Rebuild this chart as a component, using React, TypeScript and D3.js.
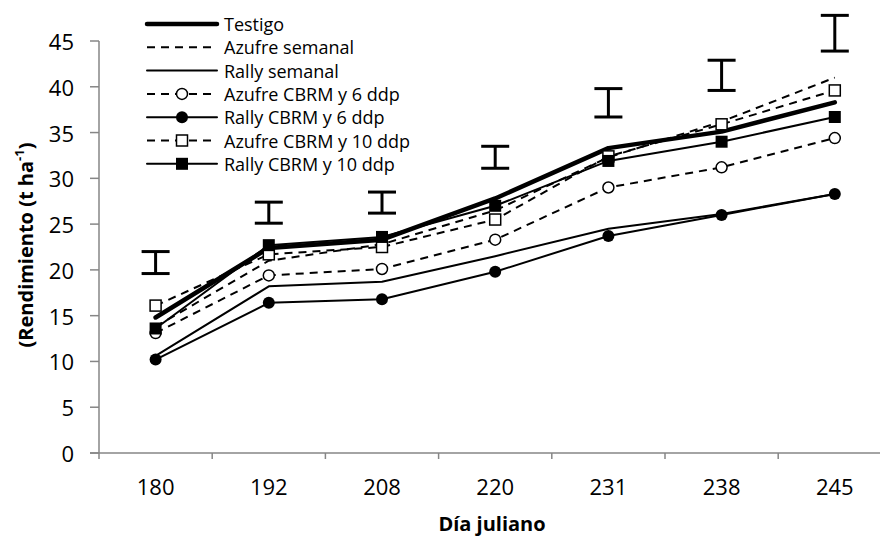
import React from "react";
import * as d3 from "d3";

const categories = ["180", "192", "208", "220", "231", "238", "245"];
const yTicks = [0, 5, 10, 15, 20, 25, 30, 35, 40, 45];

const testigo = [14.8, 22.4, 23.3, 27.8, 33.3, 35.1, 38.3];
const azufreSemanal = [13.8, 21.0, 22.8, 26.5, 32.3, 36.2, 41.0];
const rallySemanal = [10.6, 18.2, 18.7, 21.5, 24.5, 26.1, 28.3];
const azufreCbrm6 = [13.1, 19.4, 20.1, 23.3, 29.0, 31.2, 34.4];
const rallyCbrm6 = [10.2, 16.4, 16.8, 19.8, 23.7, 26.0, 28.3];
const azufreCbrm10 = [16.1, 21.7, 22.5, 25.5, 32.4, 35.9, 39.6];
const rallyCbrm10 = [13.6, 22.7, 23.6, 27.0, 31.9, 34.0, 36.7];

const errLow = [19.6, 25.1, 26.2, 31.1, 36.7, 39.6, 43.9];
const errHigh = [22.0, 27.4, 28.5, 33.5, 39.8, 42.9, 47.8];

const seriesNames = [
  "Testigo",
  "Azufre semanal",
  "Rally semanal",
  "Azufre CBRM y 6 ddp",
  "Rally CBRM y 6 ddp",
  "Azufre CBRM y 10 ddp",
  "Rally CBRM y 10 ddp",
];

type Marker = "none" | "openCircle" | "filledCircle" | "openSquare" | "filledSquare";
const seriesStyles: { width: number; dash: string | null; marker: Marker }[] = [
  { width: 4.5, dash: null, marker: "none" },
  { width: 2, dash: "8,6", marker: "none" },
  { width: 2, dash: null, marker: "none" },
  { width: 2, dash: "8,6", marker: "openCircle" },
  { width: 2, dash: null, marker: "filledCircle" },
  { width: 2, dash: "8,6", marker: "openSquare" },
  { width: 2, dash: null, marker: "filledSquare" },
];
const seriesData = [testigo, azufreSemanal, rallySemanal, azufreCbrm6, rallyCbrm6, azufreCbrm10, rallyCbrm10];

const FONT = "'Open Sans', sans-serif";
const AXIS = "#868686";

function MarkerShape({ type, x, y }: { type: Marker; x: number; y: number }) {
  if (type === "none") return null;
  if (type === "openCircle")
    return <circle cx={x} cy={y} r={5.5} fill="#fff" stroke="#000" strokeWidth={1.5} />;
  if (type === "filledCircle") return <circle cx={x} cy={y} r={6} fill="#000" />;
  if (type === "openSquare")
    return <rect x={x - 5.5} y={y - 5.5} width={11} height={11} fill="#fff" stroke="#000" strokeWidth={1.5} />;
  return <rect x={x - 6} y={y - 6} width={12} height={12} fill="#000" />;
}

export default function App() {
  const W = 880;
  const H = 540;
  const x0 = 99;
  const band = 113.2;
  const x = d3
    .scaleBand<string>()
    .domain(categories)
    .range([x0, x0 + band * categories.length])
    .paddingInner(0)
    .paddingOuter(0);
  const y = d3.scaleLinear().domain([0, 45]).range([453, 41]);
  const cx = (c: string) => (x(c) as number) + x.bandwidth() / 2;

  const line = d3
    .line<number>()
    .x((_, i) => cx(categories[i]))
    .y((d) => y(d));

  const legendX1 = 147;
  const legendX2 = 217;
  const legendY0 = 24;
  const legendStep = 23.3;

  return (
    <svg
      width={W}
      height={H}
      style={{ position: "fixed", left: 0, top: 0, background: "#fff" }}
      fontFamily={FONT}
    >
      <rect x={0} y={0} width={W} height={H} fill="#fff" />
      {/* axes */}
      <line x1={x0} x2={x0} y1={y(45)} y2={y(0)} stroke={AXIS} strokeWidth={1.5} />
      <line x1={90} x2={W} y1={y(0)} y2={y(0)} stroke={AXIS} strokeWidth={1.5} />
      {yTicks.map((t) => (
        <g key={t}>
          <line x1={90} x2={x0} y1={y(t)} y2={y(t)} stroke={AXIS} strokeWidth={1.5} />
          <text x={74} y={y(t)} textAnchor="end" dominantBaseline="central" fontSize={22} fill="#000">
            {t}
          </text>
        </g>
      ))}
      {categories.map((c) => (
        <g key={c}>
          <line x1={x(c) as number} x2={x(c) as number} y1={y(0)} y2={y(0) + 6} stroke={AXIS} strokeWidth={1.5} />
          <text x={cx(c)} y={495} textAnchor="middle" fontSize={22} fill="#000">
            {c}
          </text>
        </g>
      ))}
      <text x={492} y={531} textAnchor="middle" fontSize={20} fontWeight="bold" fill="#000">
        Día juliano
      </text>
      <text
        transform={`translate(33,245) rotate(-90)`}
        textAnchor="middle"
        fontSize={20}
        fontWeight="bold"
        fill="#000"
      >
        (Rendimiento (t ha<tspan baselineShift="super" fontSize={13}>-1</tspan>)
      </text>

      {/* error bars */}
      {categories.map((c, i) => (
        <g key={"e" + c} stroke="#000" strokeWidth={3}>
          <line x1={cx(c)} x2={cx(c)} y1={y(errLow[i])} y2={y(errHigh[i])} />
          <line x1={cx(c) - 14} x2={cx(c) + 14} y1={y(errLow[i])} y2={y(errLow[i])} />
          <line x1={cx(c) - 14} x2={cx(c) + 14} y1={y(errHigh[i])} y2={y(errHigh[i])} />
        </g>
      ))}

      {/* series */}
      {seriesData.map((data, si) => {
        const st = seriesStyles[si];
        return (
          <g key={"s" + si}>
            <path
              d={line(data) || ""}
              fill="none"
              stroke="#000"
              strokeWidth={st.width}
              strokeDasharray={st.dash || undefined}
              strokeLinejoin="round"
              strokeLinecap={st.dash ? "butt" : "round"}
            />
            {data.map((v, i) => (
              <MarkerShape key={i} type={st.marker} x={cx(categories[i])} y={y(v)} />
            ))}
          </g>
        );
      })}

      {/* legend */}
      {seriesNames.map((name, si) => {
        const st = seriesStyles[si];
        const ly = legendY0 + si * legendStep;
        return (
          <g key={"l" + si}>
            <line
              x1={legendX1}
              x2={legendX2}
              y1={ly}
              y2={ly}
              stroke="#000"
              strokeWidth={st.width}
              strokeDasharray={st.dash || undefined}
              strokeLinecap={st.dash ? "butt" : "round"}
            />
            <MarkerShape type={st.marker} x={(legendX1 + legendX2) / 2} y={ly} />
            <text x={224} y={ly} dominantBaseline="central" fontSize={18} fill="#000">
              {name}
            </text>
          </g>
        );
      })}
    </svg>
  );
}
